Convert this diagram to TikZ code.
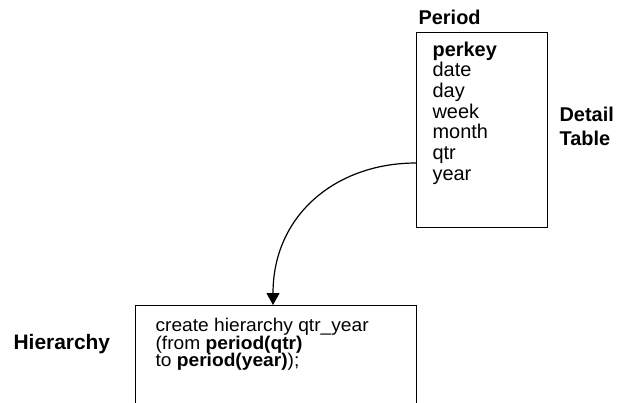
\documentclass[tikz,border=0pt]{standalone}
\usepackage{fontspec}
\setmainfont{Liberation Sans}
\newfontfamily\codefont[FakeStretch=1.04]{Liberation Sans}
\usetikzlibrary{arrows.meta}
\newcommand\mytight{\lineskiplimit=-20pt\relax\lineskip=0pt\relax}
\begin{document}
\begin{tikzpicture}[x=1bp,y=-1bp, line width=1.2bp,
  lbl/.style={font=\fontsize{20}{24}\selectfont\bfseries, inner sep=0, anchor=base west},
  txt/.style={font=\fontsize{20}{24}\selectfont, inner sep=0, anchor=base west},
  boxed/.style={draw, inner sep=0, anchor=north west}]
\useasboundingbox (0,0) rectangle (621,402);
\clip (0,0) rectangle (621,402);
% detail table
\node[lbl] (plabel) at (418,24) {Period};
\node[boxed, minimum width=131bp, minimum height=195bp] (pbox) at (416,32) {};
\node[txt, font=\fontsize{20}{24}\selectfont\bfseries] (f0) at (432,56) {perkey};
\foreach \t [count=\i] in {date,day,week,month,qtr,year}
  \node[txt] (f\i) at (432,{56+\i*20.7}) {\t};
\node[lbl] (detail) at (559,121) {Detail};
\node[lbl] (table) at (559,145) {Table};
% hierarchy
\node[lbl, font=\fontsize{21}{24}\selectfont\bfseries] (hlabel) at (13,349) {Hierarchy};
\node[boxed, minimum width=281bp, minimum height=140bp] (hbox) at (135,305) {};
\node[txt, align=left, font=\codefont\fontsize{18.5}{17.6}\selectfont\mytight] (code) at (155,366.7)
  {create hierarchy qtr\_year\\(from \textbf{period(qtr)}\\to \textbf{period(year)});};
% connector
\coordinate (start) at ([yshift=-131bp]pbox.north west);
\coordinate (tip) at ([xshift=138bp]hbox.north west);
\draw[-{Triangle[width=13bp,length=12bp]}] (start) .. controls +(-80,0) and +(0,-90) .. (tip);
\end{tikzpicture}
\end{document}
